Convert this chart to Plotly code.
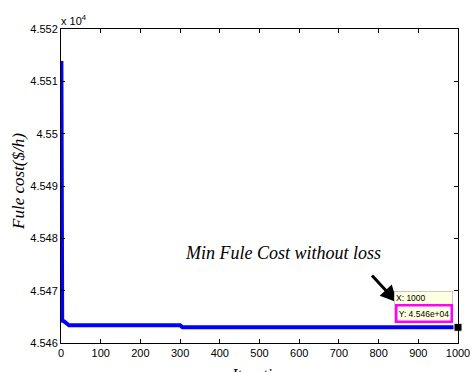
import plotly.graph_objects as go

# Convergence curve (iteration breakpoints and fuel cost in $/h)
iterations = [1, 3, 8, 12, 20, 300, 306, 1000]
fuel_cost = [45513.9, 45464.3, 45464.1, 45463.8, 45463.4, 45463.4, 45463.0, 45463.0]

x_ticks = [0, 100, 200, 300, 400, 500, 600, 700, 800, 900, 1000]
y_ticks = [45460, 45470, 45480, 45490, 45500, 45510, 45520]
y_tick_labels = ["4.546", "4.547", "4.548", "4.549", "4.55", "4.551", "4.552"]

tip_x = iterations[-1]
tip_y = fuel_cost[-1]

fig = go.Figure()
fig.add_trace(go.Scatter(x=iterations, y=fuel_cost, mode="lines",
                         line=dict(color="#0000ff", width=4)))
fig.add_trace(go.Scatter(x=[tip_x], y=[tip_y], mode="markers", cliponaxis=False,
                         marker=dict(symbol="square", size=8, color="black",
                                     line=dict(color="#ffffe1", width=1))))

axis_common = dict(showline=True, linecolor="black", linewidth=1, mirror="allticks",
                   ticks="inside", ticklen=4, tickcolor="black", showgrid=False,
                   zeroline=False, automargin=False, ticklabeloverflow="allow",
                   tickfont=dict(family="Arial", size=11, color="black"))

fig.update_layout(
    width=470, height=372,
    margin=dict(l=61, r=12, t=29, b=29),
    paper_bgcolor="white", plot_bgcolor="white",
    showlegend=False,
    xaxis=dict(range=[0, 1000], tickvals=x_ticks, **axis_common),
    yaxis=dict(range=[45460, 45520], tickvals=y_ticks, ticktext=y_tick_labels, **axis_common),
)

# Axis titles
fig.add_annotation(xref="paper", yref="paper", x=0.5, y=0, xanchor="center", yanchor="top",
                   yshift=-21, text="Iteration", showarrow=False,
                   font=dict(family="Liberation Serif", size=16, color="black", style="italic"))
fig.add_annotation(xref="paper", yref="paper", x=0, y=0.513, xanchor="center",
                   yanchor="middle", xshift=-42,
                   text="Fule cost($/h)", showarrow=False, textangle=-90,
                   font=dict(family="Liberation Serif", size=17, color="black", style="italic"))

# x 10^4 exponent label
fig.add_annotation(xref="paper", yref="paper", x=0, y=1, xanchor="left", yanchor="bottom",
                   text="x 10<sup>4</sup>", showarrow=False, yshift=0, xshift=-2,
                   font=dict(family="Arial", size=11, color="black"))

# Text label
fig.add_annotation(xref="paper", yref="paper", x=0.56, y=0.287, xanchor="center",
                   yanchor="middle", showarrow=False,
                   text="Min Fule Cost without loss",
                   font=dict(family="Liberation Serif", size=18, color="black", style="italic"))

# Arrow
fig.add_annotation(x=tip_x, y=tip_y, xshift=-61, yshift=25, ax=-28, ay=-30,
                   text=" ", showarrow=True, arrowhead=2, arrowsize=1.1, arrowwidth=3,
                   arrowcolor="black")

# Data tip box (X line)
fig.add_annotation(x=tip_x, y=tip_y, xanchor="right", yanchor="bottom", xshift=-5, yshift=4,
                   showarrow=False, text="X: 1000", align="left", valign="top",
                   width=55, height=28, bgcolor="#ffffe1", bordercolor="#c8c8c8",
                   borderwidth=1, borderpad=1,
                   font=dict(family="Arial", size=8.5, color="black"))
# Data tip (Y line) with magenta border
fig.add_annotation(x=tip_x, y=tip_y, xanchor="right", yanchor="bottom", xshift=-5, yshift=4,
                   showarrow=False, text="Y: 4.546e+04", align="center", valign="middle",
                   width=53, height=14, bgcolor="#ffffe1", bordercolor="#ff00ff",
                   borderwidth=2.5, borderpad=0,
                   font=dict(family="Arial", size=8.5, color="black"))

fig.write_html("out.html", config={"displayModeBar": False},
               post_script="document.body.style.margin='0px';")
